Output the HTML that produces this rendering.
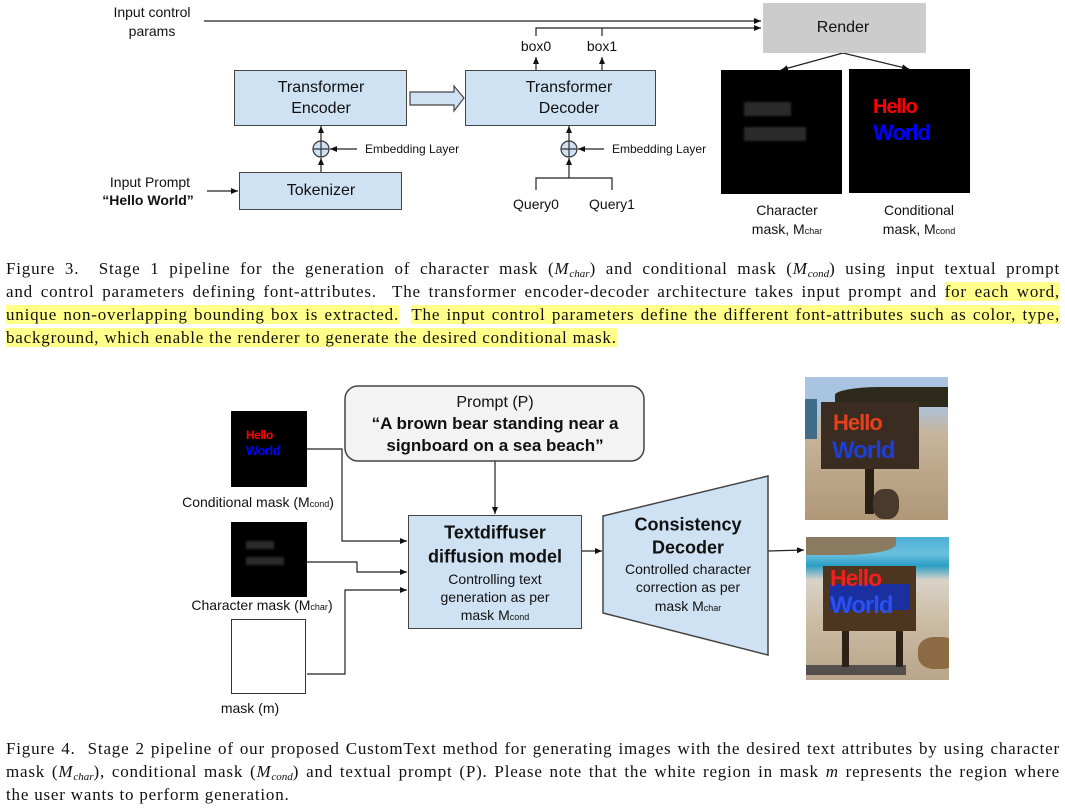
<!DOCTYPE html>
<html><head><meta charset="utf-8"><style>
body{margin:0;width:1065px;height:808px;background:#fff;position:relative;overflow:hidden;font-family:"Liberation Sans",sans-serif;color:#111}
.a{position:absolute}
.t{position:absolute;white-space:nowrap;transform:translate(-50%,-50%)}
.box{position:absolute;background:#cfe2f3;border:1.5px solid #444;box-sizing:border-box}
.cap{position:absolute;left:6px;width:1054px;font-family:"Liberation Serif",serif;font-size:17px;letter-spacing:0.8px;line-height:23px;color:#111}
.ln{text-align:justify;text-align-last:justify;white-space:nowrap;height:23px}
.ln.last{text-align-last:left}
.hl{background:#ffff8a}
sub{font-size:11px;vertical-align:-3px;line-height:0;letter-spacing:0}
.sm{font-size:9px}
</style></head><body>
<svg class="a" style="left:0;top:0" width="1065" height="808">
<defs><marker id="ar" markerWidth="8" markerHeight="8" refX="7" refY="4" orient="auto" markerUnits="userSpaceOnUse"><path d="M0,1 L7,4 L0,7z" fill="#111"/></marker></defs>
<g stroke="#222" stroke-width="1.2" fill="none">
<line x1="204" y1="21" x2="761" y2="21" marker-end="url(#ar)"/>
<polyline points="536,36 536,28 761,28" marker-end="url(#ar)"/>
<line x1="602" y1="36" x2="602" y2="28"/>
<line x1="536" y1="70" x2="536" y2="57" marker-end="url(#ar)"/>
<line x1="602" y1="70" x2="602" y2="57" marker-end="url(#ar)"/>
<line x1="321" y1="172" x2="321" y2="158" marker-end="url(#ar)"/>
<line x1="321" y1="141" x2="321" y2="126" marker-end="url(#ar)"/>
<line x1="357" y1="149" x2="330" y2="149" marker-end="url(#ar)"/>
<line x1="207" y1="191" x2="238" y2="191" marker-end="url(#ar)"/>
<line x1="569" y1="178" x2="569" y2="158" marker-end="url(#ar)"/>
<line x1="569" y1="141" x2="569" y2="126" marker-end="url(#ar)"/>
<line x1="604" y1="149" x2="578" y2="149" marker-end="url(#ar)"/>
<polyline points="536,190 536,178 612,178 612,190"/>
<line x1="843" y1="53" x2="781" y2="70" marker-end="url(#ar)"/>
<line x1="843" y1="53" x2="909" y2="69" marker-end="url(#ar)"/>
<polyline points="307,449 342,449 342,541 407,541" marker-end="url(#ar)"/>
<polyline points="307,562 357,562 357,572 407,572" marker-end="url(#ar)"/>
<polyline points="307,674 345,674 345,590 407,590" marker-end="url(#ar)"/>
<line x1="495" y1="461" x2="495" y2="514" marker-end="url(#ar)"/>
<line x1="582" y1="551" x2="602" y2="551" marker-end="url(#ar)"/>
<line x1="768" y1="551" x2="804" y2="550" marker-end="url(#ar)"/>
</g>
<path d="M410,92 H454 V86 L464,98 L454,111 V105 H410z" fill="#cfe2f3" stroke="#444" stroke-width="1.2"/>
<circle cx="321" cy="149" r="8" fill="#cfe2f3" stroke="#333" stroke-width="1.2"/>
<path d="M313,149 H329 M321,141 V157" stroke="#333" stroke-width="1.2"/>
<circle cx="569" cy="149" r="8" fill="#cfe2f3" stroke="#333" stroke-width="1.2"/>
<path d="M561,149 H577 M569,141 V157" stroke="#333" stroke-width="1.2"/>
<polygon points="603,516 768,476 768,655 603,613" fill="#cfe2f3" stroke="#444" stroke-width="1.5"/>
<rect x="345" y="386" width="299" height="75" rx="13" fill="#f3f3f3" stroke="#444" stroke-width="1.5"/>
</svg>

<div class="t" style="left:152px;top:12px;font-size:14px">Input control</div>
<div class="t" style="left:152px;top:31px;font-size:14px">params</div>
<div class="a" style="left:763px;top:3px;width:163px;height:50px;background:#cccccc"></div>
<div class="t" style="left:843px;top:28px;font-size:16px">Render</div>
<div class="t" style="left:536px;top:46px;font-size:14px">box0</div>
<div class="t" style="left:602px;top:46px;font-size:14px">box1</div>
<div class="box" style="left:234px;top:70px;width:173px;height:56px"></div>
<div class="t" style="left:321px;top:88px;font-size:16px">Transformer</div>
<div class="t" style="left:321px;top:109px;font-size:16px">Encoder</div>
<div class="box" style="left:465px;top:70px;width:191px;height:56px"></div>
<div class="t" style="left:569px;top:88px;font-size:16px">Transformer</div>
<div class="t" style="left:569px;top:109px;font-size:16px">Decoder</div>
<div class="a" style="left:365px;top:142px;font-size:12px">Embedding Layer</div>
<div class="a" style="left:612px;top:142px;font-size:12px">Embedding Layer</div>
<div class="box" style="left:239px;top:172px;width:163px;height:38px"></div>
<div class="t" style="left:321px;top:191px;font-size:16px">Tokenizer</div>
<div class="t" style="left:150px;top:182px;font-size:14px">Input Prompt</div>
<div class="t" style="left:148px;top:200px;font-size:14px;font-weight:bold">“Hello World”</div>
<div class="t" style="left:536px;top:204px;font-size:14px">Query0</div>
<div class="t" style="left:612px;top:204px;font-size:14px">Query1</div>

<div class="a" style="left:721px;top:70px;width:121px;height:124px;background:#000"></div>
<div class="a" style="left:744px;top:102px;width:47px;height:14px;background:#2b2b2b;filter:blur(1px)"></div>
<div class="a" style="left:744px;top:127px;width:62px;height:14px;background:#2b2b2b;filter:blur(1px)"></div>
<div class="a" style="left:849px;top:69px;width:121px;height:124px;background:#000"></div>
<div class="a" style="left:873px;top:96px;font-size:20px;font-weight:bold;color:#f00;letter-spacing:-1px">Hello</div>
<div class="a" style="left:873px;top:120px;font-size:22px;font-weight:bold;color:#00f;letter-spacing:-1px">World</div>
<div class="t" style="left:787px;top:210px;font-size:14px">Character</div>
<div class="t" style="left:787px;top:229px;font-size:14px">mask, M<span class="sm">char</span></div>
<div class="t" style="left:919px;top:210px;font-size:14px">Conditional</div>
<div class="t" style="left:919px;top:229px;font-size:14px">mask, M<span class="sm">cond</span></div>

<div class="cap" style="top:257px">
<div class="ln">Figure 3.&nbsp; Stage 1 pipeline for the generation of character mask (<i>M</i><sub><i>char</i></sub>) and conditional mask (<i>M</i><sub><i>cond</i></sub>) using input textual prompt</div>
<div class="ln">and control parameters defining font-attributes.&nbsp; The transformer encoder-decoder architecture takes input prompt and <span class="hl">for each word,</span></div>
<div class="ln"><span class="hl">unique non-overlapping bounding box is extracted.</span>&nbsp; <span class="hl">The input control parameters define the different font-attributes such as color, type,</span></div>
<div class="ln last"><span class="hl">background, which enable the renderer to generate the desired conditional mask.</span></div>
</div>

<div class="t" style="left:495px;top:403px;font-size:16px">Prompt (P)</div>
<div class="t" style="left:495px;top:424px;font-size:17px;font-weight:bold">“A brown bear standing near a</div>
<div class="t" style="left:495px;top:446px;font-size:17px;font-weight:bold">signboard on a sea beach”</div>

<div class="a" style="left:231px;top:411px;width:76px;height:76px;background:#000"></div>
<div class="a" style="left:246px;top:428px;font-size:12px;font-weight:bold;color:#f00;letter-spacing:-0.5px">Hello</div>
<div class="a" style="left:246px;top:443px;font-size:13px;font-weight:bold;color:#00f;letter-spacing:-0.5px">World</div>
<div class="t" style="left:258px;top:502px;font-size:14px">Conditional mask (M<span class="sm">cond</span>)</div>
<div class="a" style="left:231px;top:522px;width:76px;height:75px;background:#000"></div>
<div class="a" style="left:246px;top:541px;width:28px;height:8px;background:#2a2a2a;filter:blur(1px)"></div>
<div class="a" style="left:246px;top:557px;width:38px;height:8px;background:#2a2a2a;filter:blur(1px)"></div>
<div class="t" style="left:262px;top:605px;font-size:14px">Character mask (M<span class="sm">char</span>)</div>
<div class="a" style="left:231px;top:619px;width:75px;height:75px;background:#fff;border:1px solid #333;box-sizing:border-box"></div>
<div class="t" style="left:250px;top:708px;font-size:14px">mask (m)</div>

<div class="box" style="left:408px;top:515px;width:174px;height:114px"></div>
<div class="t" style="left:495px;top:533px;font-size:18px;font-weight:bold">Textdiffuser</div>
<div class="t" style="left:495px;top:557px;font-size:18px;font-weight:bold">diffusion model</div>
<div class="t" style="left:495px;top:579px;font-size:14px">Controlling text</div>
<div class="t" style="left:495px;top:597px;font-size:14px">generation as per</div>
<div class="t" style="left:495px;top:615px;font-size:14px">mask M<span class="sm">cond</span></div>
<div class="t" style="left:688px;top:525px;font-size:18px;font-weight:bold">Consistency</div>
<div class="t" style="left:688px;top:548px;font-size:18px;font-weight:bold">Decoder</div>
<div class="t" style="left:688px;top:569px;font-size:14px">Controlled character</div>
<div class="t" style="left:688px;top:587px;font-size:14px">correction as per</div>
<div class="t" style="left:688px;top:606px;font-size:14px">mask M<span class="sm">char</span></div>

<div class="a" style="left:805px;top:377px;width:143px;height:143px;overflow:hidden;background:linear-gradient(#a9c4e0 0,#a9c4e0 18%,#c7b49a 40%,#b09778 100%)">
<div class="a" style="left:30px;top:10px;width:113px;height:20px;background:#2d2a1c;border-radius:40% 0 0 0"></div>
<div class="a" style="left:0;top:22px;width:12px;height:40px;background:#3f6d8a"></div>
<div class="a" style="left:16px;top:25px;width:98px;height:67px;background:#3a2c20"></div>
<div class="a" style="left:28px;top:33px;font-size:22px;font-weight:bold;color:#e8401c;letter-spacing:-1px">Hello</div>
<div class="a" style="left:27px;top:60px;font-size:24px;font-weight:bold;color:#1d3ed8;letter-spacing:-1px">World</div>
<div class="a" style="left:60px;top:92px;width:9px;height:45px;background:#2a2016"></div>
<div class="a" style="left:68px;top:112px;width:26px;height:30px;background:#4a3a2c;border-radius:40%"></div>
</div>
<div class="a" style="left:806px;top:537px;width:143px;height:143px;overflow:hidden;background:linear-gradient(#4ab0d6 0,#6cc0de 12%,#2a9ec5 20%,#d9d3c8 30%,#cbbba3 60%,#b8a58a 100%)">
<div class="a" style="left:0;top:0;width:90px;height:18px;background:#8a7a60;border-radius:0 0 60% 0"></div>
<div class="a" style="left:17px;top:29px;width:93px;height:65px;background:#4e3520"></div>
<div class="a" style="left:23px;top:47px;width:81px;height:26px;background:#1a2fa0"></div>
<div class="a" style="left:24px;top:28px;font-size:23px;font-weight:bold;color:#ee2020;letter-spacing:-1px">Hello</div>
<div class="a" style="left:24px;top:55px;font-size:24px;font-weight:bold;color:#2a50f0;letter-spacing:-1px">World</div>
<div class="a" style="left:36px;top:94px;width:7px;height:36px;background:#2e2015"></div>
<div class="a" style="left:90px;top:94px;width:7px;height:36px;background:#2e2015"></div>
<div class="a" style="left:0;top:128px;width:100px;height:10px;background:#2a2a30;opacity:.7"></div>
<div class="a" style="left:112px;top:100px;width:40px;height:32px;background:#8b6a44;border-radius:40%"></div>
</div>

<div class="cap" style="top:737px">
<div class="ln">Figure 4.&nbsp; Stage 2 pipeline of our proposed CustomText method for generating images with the desired text attributes by using character</div>
<div class="ln">mask (<i>M</i><sub><i>char</i></sub>), conditional mask (<i>M</i><sub><i>cond</i></sub>) and textual prompt (P). Please note that the white region in mask <i>m</i> represents the region where</div>
<div class="ln last">the user wants to perform generation.</div>
</div>
</body></html>
